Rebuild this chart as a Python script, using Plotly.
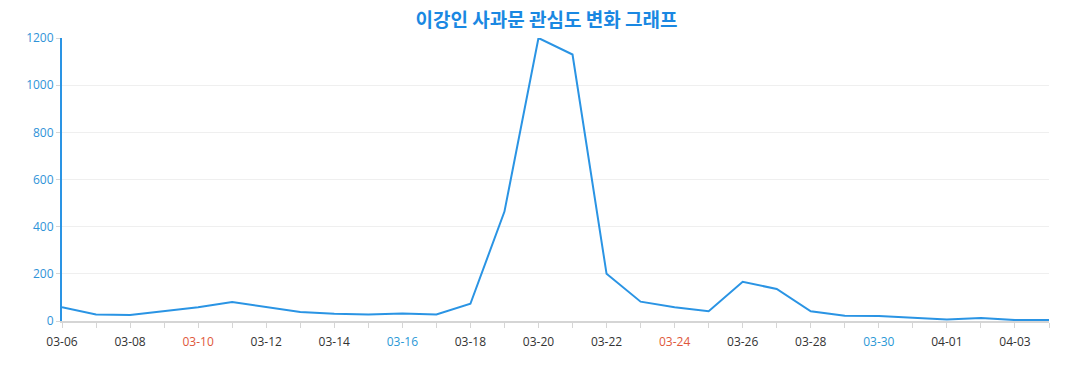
import plotly.graph_objects as go

dates = ["03-06","03-07","03-08","03-09","03-10","03-11","03-12","03-13","03-14","03-15",
         "03-16","03-17","03-18","03-19","03-20","03-21","03-22","03-23","03-24","03-25",
         "03-26","03-27","03-28","03-29","03-30","03-31","04-01","04-02","04-03","04-04"]
values = [58, 28, 25, 41, 58, 81, 61, 38, 31, 28,
          32, 28, 73, 464, 1200, 1130, 200, 82, 58, 41,
          166, 136, 41, 22, 21, 13, 6, 13, 4, 4]
red_labels = ["03-10", "03-24"]
blue_labels = ["03-16", "03-30"]
y_ticks = [0, 200, 400, 600, 800, 1000, 1200]
title = "이강인 사과문 관심도 변화 그래프"

def label(i, d):
    if i % 2:
        return ""
    if d in red_labels:
        return f"<span style='color:#e0573a'>{d}</span>"
    if d in blue_labels:
        return f"<span style='color:#2a98d6'>{d}</span>"
    return d

fig = go.Figure()
fig.add_trace(go.Scatter(x=dates, y=values, mode="lines",
                         line=dict(color="#2a94e4", width=2), hoverinfo="x+y"))

fig.update_layout(
    width=1077, height=390,
    margin=dict(l=54, r=36, t=30, b=77),
    paper_bgcolor="white", plot_bgcolor="white",
    showlegend=False,
    font=dict(family="Open Sans, Noto Sans, sans-serif"),
    title=dict(text=f"<b>{title}</b>", x=0.5, xanchor="center",
               y=1 - 12 / 390, yanchor="middle",
               font=dict(family="Noto Sans CJK KR", size=19, color="#1a88e2")),
)
fig.update_xaxes(
    type="category", range=[0, len(dates) - 1],
    tickmode="array", tickvals=dates,
    ticktext=[label(i, d) for i, d in enumerate(dates)],
    ticks="outside", ticklen=5, tickcolor="#d5d5d5",
    ticklabelstandoff=4,
    showline=True, linecolor="#d5d5d5", linewidth=2,
    showgrid=False, zeroline=False,
    tickfont=dict(size=12, color="#333333"),
)
fig.update_yaxes(
    range=[0, 1200], tickvals=y_ticks,
    ticks="outside", ticklen=4, tickcolor="#d5d5d5",
    showline=True, linecolor="#2a94e4", linewidth=2,
    showgrid=True, gridcolor="#efefef", zeroline=False,
    tickfont=dict(size=12, color="#2f93d8"),
)
fig.write_html("out.html")
